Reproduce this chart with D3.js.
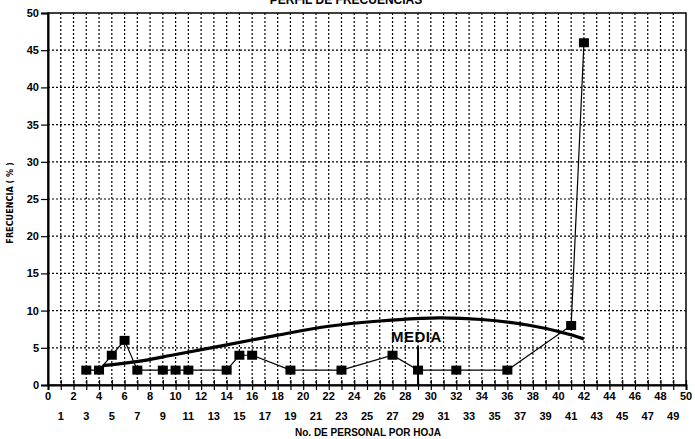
<!DOCTYPE html>
<html>
<head>
<meta charset="utf-8">
<script src="https://cdn.jsdelivr.net/npm/d3@7"></script>
<style>
    body { margin: 0; background: #ffffff; }
    svg { display: block; font-family: "Liberation Sans", Arial, sans-serif; }
</style>
</head>
<body>
<div id="chart"></div>
<script>
// data
const personal = [3, 4, 5, 6, 7, 9, 10, 11, 14, 15, 16, 19, 23, 27, 29, 32, 36, 41, 42];
const frecuencia = [2, 2, 4, 6, 2, 2, 2, 2, 2, 4, 4, 2, 2, 4, 2, 2, 2, 8, 46];

// bold trend line ("MEDIA")
const mediaX = [4.3, 6.8, 10, 13.7, 18, 22, 26, 30, 34, 37.8, 40, 42];
const mediaY = [2.6, 3.1, 4.1, 5.3, 6.7, 7.9, 8.6, 9.0, 8.8, 8.0, 7.2, 6.2];
const mediaValor = 29;

const yTicks = [0, 5, 10, 15, 20, 25, 30, 35, 40, 45, 50];
const xEven = d3.range(0, 51, 2);
const xOdd = d3.range(1, 50, 2);

const width = 695;
const height = 439;
const margin = { top: 13, right: 9, bottom: 55, left: 48 };

const svg = d3.select('#chart').append('svg')
    .attr('width', width)
    .attr('height', height);

const x = d3.scaleLinear().domain([0, 50]).range([margin.left, width - margin.right]);
const y = d3.scaleLinear().domain([0, 50]).range([height - margin.bottom + 1, margin.top]);

// title, cut off at the top edge as in the scan
svg.append('text')
    .attr('x', 346)
    .attr('y', 4)
    .attr('text-anchor', 'middle')
    .attr('font-size', '12px')
    .attr('font-weight', 'bold')
    .text('PERFIL DE FRECUENCIAS');

// dotted grid
svg.append('g')
    .selectAll('line')
    .data(d3.range(1, 50))
    .enter().append('line')
    .attr('x1', d => x(d)).attr('x2', d => x(d))
    .attr('y1', y(50)).attr('y2', y(0))
    .attr('stroke', '#000')
    .attr('stroke-width', 1.2)
    .attr('stroke-dasharray', '2,2');

svg.append('g')
    .selectAll('line')
    .data(yTicks.slice(1, -1))
    .enter().append('line')
    .attr('x1', x(0)).attr('x2', x(50))
    .attr('y1', d => y(d)).attr('y2', d => y(d))
    .attr('stroke', '#000')
    .attr('stroke-width', 1.2)
    .attr('stroke-dasharray', '2,2');

// frame
svg.append('rect')
    .attr('x', x(0)).attr('y', y(50))
    .attr('width', x(50) - x(0))
    .attr('height', y(0) - y(50))
    .attr('fill', 'none')
    .attr('stroke', '#000')
    .attr('stroke-width', 1.5);

// y axis
const yAxis = svg.append('g')
    .attr('transform', `translate(${x(0)},0)`)
    .call(d3.axisLeft(y).tickValues(yTicks).tickSize(7).tickPadding(2));
yAxis.select('.domain').attr('stroke-width', 2);
yAxis.selectAll('.tick line').attr('stroke-width', 1.2);
yAxis.selectAll('text')
    .attr('font-size', '11px')
    .attr('font-weight', 'bold')
    .attr('font-family', '"Liberation Sans", Arial, sans-serif')
    .attr('fill', '#000');

// x axis: ticks cross the line, labels in two rows
const xAxis = svg.append('g')
    .attr('transform', `translate(0,${y(0)})`)
    .call(d3.axisBottom(x).tickValues(d3.range(0, 51)).tickSize(5).tickFormat(''));
xAxis.select('.domain').attr('stroke-width', 2);
xAxis.selectAll('.tick line').attr('y1', -5).attr('stroke-width', 1.2);

svg.append('g')
    .selectAll('text')
    .data(xEven)
    .enter().append('text')
    .attr('x', d => x(d))
    .attr('y', y(0) + 15)
    .attr('text-anchor', 'middle')
    .attr('font-size', '11px')
    .attr('font-weight', 'bold')
    .text(d => d);

svg.append('g')
    .selectAll('text')
    .data(xOdd)
    .enter().append('text')
    .attr('x', d => x(d))
    .attr('y', y(0) + 35)
    .attr('text-anchor', 'middle')
    .attr('font-size', '11px')
    .attr('font-weight', 'bold')
    .text(d => d);

// axis titles
svg.append('text')
    .attr('x', 368)
    .attr('y', 436)
    .attr('text-anchor', 'middle')
    .attr('font-size', '10px')
    .attr('font-weight', 'bold')
    .text('No. DE PERSONAL POR HOJA');

svg.append('text')
    .attr('transform', 'translate(13,203) rotate(-90)')
    .attr('text-anchor', 'middle')
    .attr('font-size', '9px')
    .attr('font-weight', 'bold')
    .attr('font-family', '"DejaVu Sans Condensed", "Liberation Sans Narrow", sans-serif')
    .text('FRECUENCIA ( % )');

// mean curve
const media = mediaX.map((d, i) => [d, mediaY[i]]);
svg.append('path')
    .datum(media)
    .attr('fill', 'none')
    .attr('stroke', '#000')
    .attr('stroke-width', 3.2)
    .attr('d', d3.line().x(d => x(d[0])).y(d => y(d[1])).curve(d3.curveCatmullRom));

// mean marker and label
svg.append('line')
    .attr('x1', x(mediaValor)).attr('x2', x(mediaValor))
    .attr('y1', y(5.2)).attr('y2', y(0))
    .attr('stroke', '#000')
    .attr('stroke-width', 2);

svg.append('text')
    .attr('x', x(mediaValor) - 27)
    .attr('y', y(5.8))
    .attr('font-size', '15px')
    .attr('font-weight', 'bold')
    .attr('letter-spacing', '0.5px')
    .text('MEDIA');

// data series
const puntos = personal.map((d, i) => [d, frecuencia[i]]);
svg.append('path')
    .datum(puntos)
    .attr('fill', 'none')
    .attr('stroke', '#000')
    .attr('stroke-width', 1.2)
    .attr('d', d3.line().x(d => x(d[0])).y(d => y(d[1])));

svg.append('g')
    .selectAll('rect')
    .data(puntos)
    .enter().append('rect')
    .attr('x', d => x(d[0]) - 5)
    .attr('y', d => y(d[1]) - 4.5)
    .attr('width', 10)
    .attr('height', 9)
    .attr('fill', '#000');
</script>
</body>
</html>
